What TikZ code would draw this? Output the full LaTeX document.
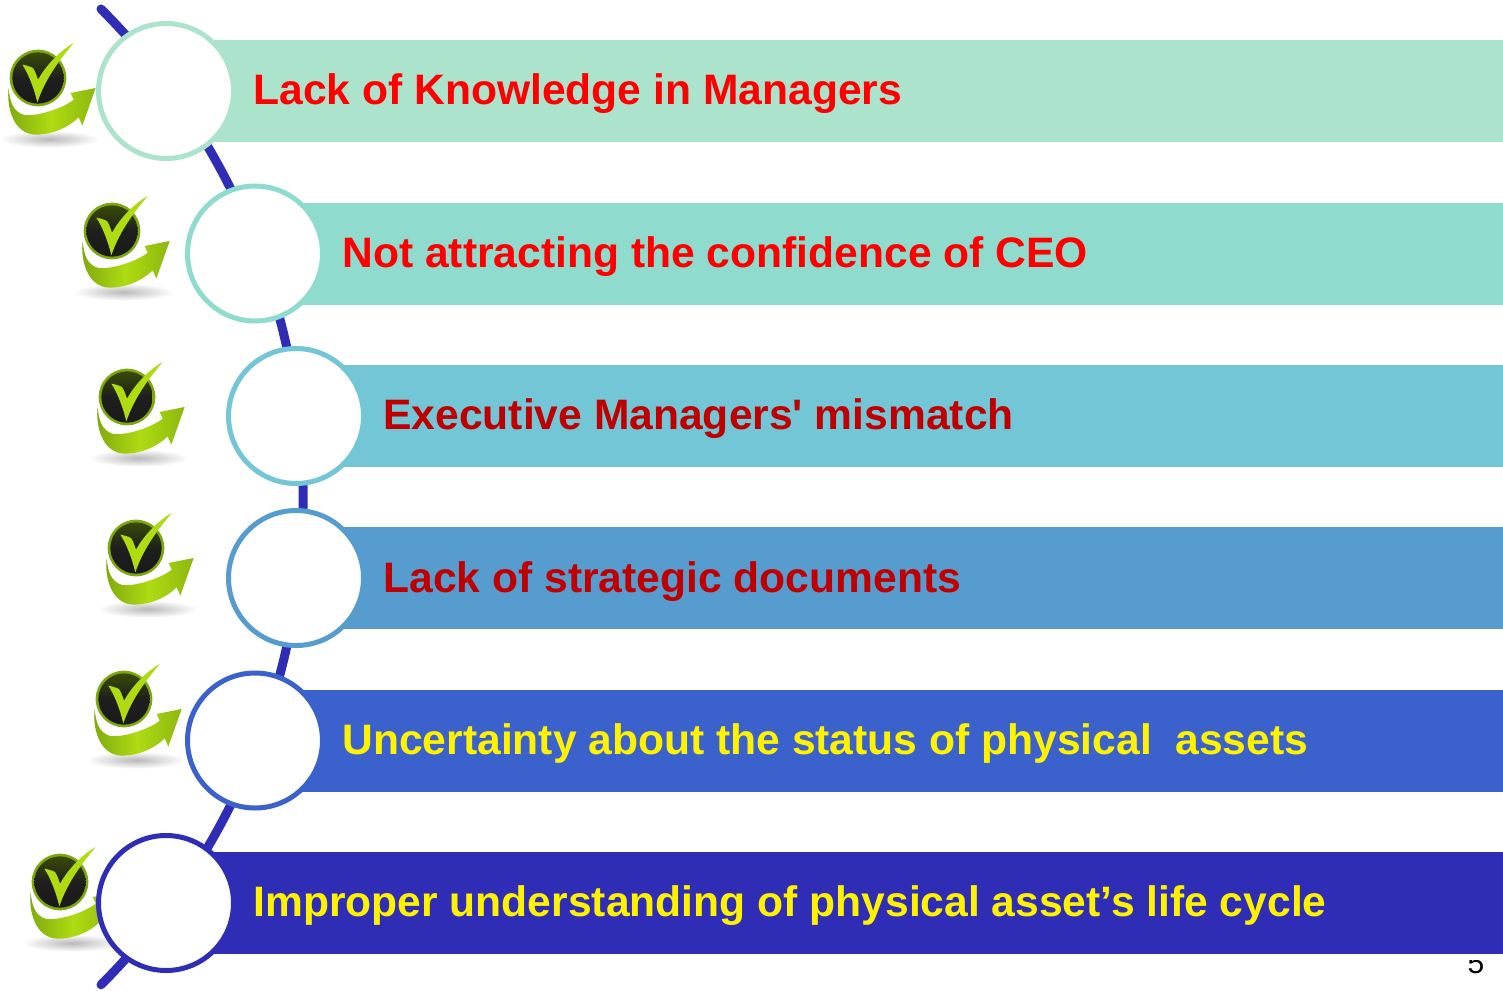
\documentclass[tikz,border=0pt]{standalone}
\usepackage{fontspec}
\setmainfont{Liberation Sans}[Ligatures=NoCommon]
\definecolor{bara}{HTML}{ABE3CC}
\definecolor{barb}{HTML}{8FDCCF}
\definecolor{barc}{HTML}{72C6D6}
\definecolor{bard}{HTML}{569CCF}
\definecolor{bare}{HTML}{3B62CC}
\definecolor{barf}{HTML}{2F2DB5}
\definecolor{darkred}{HTML}{C00000}
\definecolor{limeA}{HTML}{7FA80E}
\definecolor{limeB}{HTML}{AEDB12}
\tikzset{
  x=0.5pt,y=-0.5pt,
  barbox/.style={rectangle,draw=none,fill=#1,minimum height=51.3pt,inner sep=0pt,anchor=west},
  hub/.style={circle,draw=#1,fill=white,line width=2.5pt,minimum size=67.5pt,inner sep=0pt},
  label/.style={anchor=base west,inner sep=0pt,font=\fontsize{21.3}{24}\bfseries},
  okicon/.pic={
    \begin{scope}[scale=1/3]
      \shade[inner color=gray!55,outer color=white,draw=none] (35,183) ellipse [x radius=150,y radius=26];
      \shade[left color=limeA,right color=limeA!70!limeB,middle color=limeB]
        (-88,30) .. controls (-95,85) and (-75,170) .. (-5,170)
        .. controls (40,170) and (90,150) .. (122,118) -- (133,143)
        -- (173,30) -- (98,45) -- (107,65)
        .. controls (70,95) and (-30,125) .. (-55,105)
        .. controls (-80,90) and (-85,60) .. (-88,30) -- cycle;
      \fill[limeA] (0,0) circle [radius=85];
      \shade[top color=black!55!limeA,bottom color=black!90,middle color=black!88] (0,0) circle [radius=77];
      \fill[limeB]
        (-47,-40) .. controls (-35,-38) and (-20,-33) .. (-15,-30)
        .. controls (-8,-20) and (-3,-5) .. (0,5)
        .. controls (25,-40) and (70,-85) .. (107,-105)
        .. controls (70,-60) and (25,-5) .. (-2,73)
        .. controls (-12,30) and (-30,-15) .. (-47,-40) -- cycle;
    \end{scope}
  }
}
\begin{document}
\begin{tikzpicture}
\useasboundingbox (0,0) rectangle (1503,990);
\fill[white] (0,0) rectangle (1503,990);
\coordinate (arctop) at (101,9);
\draw[barf,line width=4.5pt,line cap=round] (arctop) arc [start angle=-45,end angle=45,radius=690];
\node[inner sep=0pt,font=\fontsize{15}{16}\selectfont] (pagenum) at (1476,963) {5};
\fill[white] (1460,950) rectangle (1492,960);
\pic at (38,78) {okicon};
\pic at (112,231) {okicon};
\pic at (127,397) {okicon};
\pic at (136,548) {okicon};
\pic at (124,699) {okicon};
\pic at (60,882) {okicon};
\node[barbox=bara,minimum width=669pt] (bar1) at (165,91) {};
\node[barbox=barb,minimum width=624.5pt] (bar2) at (254,254) {};
\node[barbox=barc,minimum width=604pt] (bar3) at (295,416) {};
\node[barbox=bard,minimum width=604pt] (bar4) at (295,578) {};
\node[barbox=bare,minimum width=624.5pt] (bar5) at (254,741) {};
\node[barbox=barf,minimum width=669pt] (bar6) at (165,903) {};
\node[hub=bara] (hub1) at (166,91) {};
\node[hub=barb] (hub2) at (255,253.5) {};
\node[hub=barc] (hub3) at (296,416) {};
\node[hub=bard] (hub4) at (296,578) {};
\node[hub=bare] (hub5) at (255,740.5) {};
\node[hub=barf] (hub6) at (166,903) {};
\node[label,text=red] (t1) at (253,104.5) {Lack of Knowledge in Managers};
\node[label,text=red] (t2) at (342,267.5) {Not attracting the confidence of CEO};
\node[label,text=darkred] (t3) at (383,429.5) {Executive Managers\textquotesingle{} mismatch};
\node[label,text=darkred] (t4) at (383,592) {Lack of strategic documents};
\node[label,text=yellow] (t5) at (342,754.5) {Uncertainty about the status of physical\ \ assets};
\node[label,text=yellow] (t6) at (253,916.5) {Improper understanding of physical asset’s life cycle};
\end{tikzpicture}
\end{document}
